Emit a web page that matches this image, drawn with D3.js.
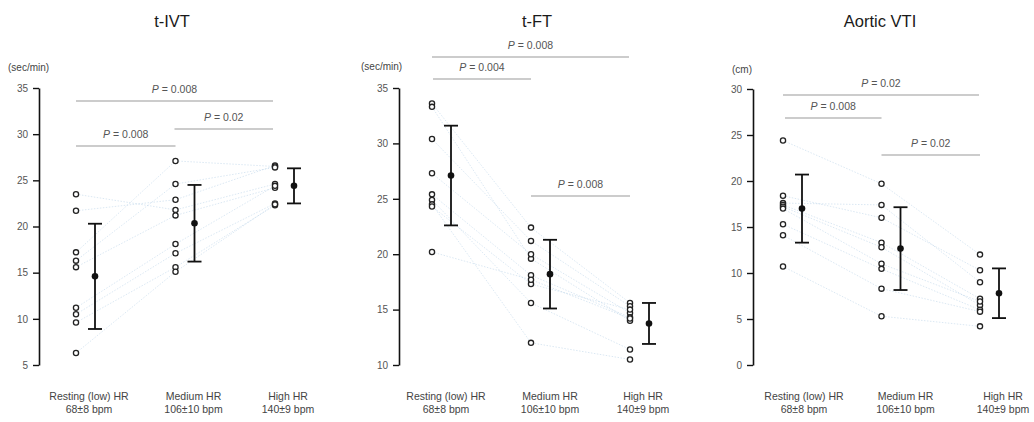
<!DOCTYPE html>
<html>
<head>
<meta charset="utf-8">
<script src="https://cdn.jsdelivr.net/npm/d3@7/dist/d3.min.js"></script>
<style>
  html, body { margin: 0; padding: 0; background: #fff; }
  svg { display: block; font-family: "Liberation Sans", Arial, sans-serif; }
</style>
</head>
<body>
<svg id="chart" width="1034" height="422"></svg>
<script>
// ---- data ----
const titles = ["t-IVT", "t-FT", "Aortic VTI"];
const units = ["(sec/min)", "(sec/min)", "(cm)"];
const groupNames = ["Resting (low) HR", "Medium HR", "High HR"];
const groupRates = ["68±8 bpm", "106±10 bpm", "140±9 bpm"];

const ivtTicks = [5, 10, 15, 20, 25, 30, 35];
const ftTicks = [10, 15, 20, 25, 30, 35];
const vtiTicks = [0, 5, 10, 15, 20, 25, 30];

// individual subjects, same order in each group
const ivtResting = [23.5, 21.7, 17.2, 16.3, 15.6, 11.2, 10.5, 9.6, 6.3];
const ivtMedium  = [21.8, 22.9, 27.1, 24.6, 21.2, 18.1, 17.1, 15.6, 15.1];
const ivtHigh    = [24.6, 26.6, 26.5, 26.4, 24.2, 24.4, 22.5, 22.3, 22.4];

const ftResting = [33.6, 33.3, 30.4, 27.3, 25.4, 24.9, 24.5, 24.3, 20.2];
const ftMedium  = [22.4, 19.6, 21.2, 20.0, 18.1, 15.6, 12.0, 17.3, 17.7];
const ftHigh    = [15.6, 14.0, 15.3, 14.7, 14.3, 11.4, 10.5, 15.0, 14.2];

const vtiResting = [24.4, 18.4, 17.6, 17.4, 17.2, 17.0, 15.3, 14.1, 10.7];
const vtiMedium  = [19.7, 16.0, 17.4, 13.3, 12.8, 11.0, 10.45, 8.3, 5.3];
const vtiHigh    = [12.0, 10.3, 9.0, 7.2, 6.5, 6.9, 6.0, 5.8, 4.2];

// group mean and SD
const ivtMean = [14.6, 20.35, 24.4];
const ivtSD   = [5.7, 4.15, 1.9];
const ftMean  = [27.1, 18.2, 13.75];
const ftSD    = [4.5, 3.1, 1.85];
const vtiMean = [17.0, 12.65, 7.8];
const vtiSD   = [3.7, 4.5, 2.7];

// pairwise comparisons: [from group, to group, p]
const ivtP = [[0, 2, "0.008"], [1, 2, "0.02"], [0, 1, "0.008"]];
const ftP  = [[0, 2, "0.008"], [0, 1, "0.004"], [1, 2, "0.008"]];
const vtiP = [[0, 2, "0.02"], [0, 1, "0.008"], [1, 2, "0.02"]];

const panels = [
  { title: titles[0], unit: units[0], ticks: ivtTicks, groups: [ivtResting, ivtMedium, ivtHigh], mean: ivtMean, sd: ivtSD, comps: ivtP },
  { title: titles[1], unit: units[1], ticks: ftTicks, groups: [ftResting, ftMedium, ftHigh], mean: ftMean, sd: ftSD, comps: ftP },
  { title: titles[2], unit: units[2], ticks: vtiTicks, groups: [vtiResting, vtiMedium, vtiHigh], mean: vtiMean, sd: vtiSD, comps: vtiP }
];

// ---- layout ----
const layout = [
  { axisX: 39,  yTop: 88, yBot: 365, x0: 76,  x1: 275, titleX: 172, unitX: 8,   unitY: 71, brackets: [101, 129, 146], bracketInset: [[0, -2], [-1, -2], [0, 0]], labelOffsets: [13, 18, 13] },
  { axisX: 399, yTop: 88, yBot: 365, x0: 432, x1: 630, titleX: 537, unitX: 361, unitY: 70, brackets: [57, 79, 196],  bracketInset: [[0, -1], [1, 0], [0, 0]], labelOffsets: [14, 19, 13] },
  { axisX: 753, yTop: 89, yBot: 365, x0: 783, x1: 980, titleX: 880, unitX: 732, unitY: 73, brackets: [95, 118, 155], bracketInset: [[0, -1], [2, 0], [0, 0]], labelOffsets: [21, 24, 23] }
];

const svg = d3.select("#chart");

panels.forEach((p, i) => {
  const L = layout[i];
  const g = svg.append("g");

  const y = d3.scaleLinear()
    .domain([d3.min(p.ticks), d3.max(p.ticks)])
    .range([L.yBot, L.yTop]);
  const x = d3.scalePoint()
    .domain(d3.range(groupNames.length))
    .range([L.x0, L.x1]);
  const errOffset = 19;

  // title
  g.append("text")
    .attr("x", L.titleX).attr("y", 27)
    .attr("text-anchor", "middle")
    .attr("font-size", 16.5)
    .attr("fill", "#1a1a1a")
    .text(p.title);

  // unit label
  g.append("text")
    .attr("x", L.unitX).attr("y", L.unitY)
    .attr("font-size", 10)
    .attr("fill", "#444")
    .text(p.unit);

  // y axis
  const axis = g.append("g")
    .attr("transform", `translate(${L.axisX},0)`)
    .call(d3.axisLeft(y).tickValues(p.ticks).tickSize(6).tickSizeOuter(0).tickPadding(5));
  axis.select(".domain").attr("stroke", "#111").attr("stroke-width", 1.6);
  axis.selectAll(".tick line").attr("stroke", "#111").attr("stroke-width", 1.4);
  axis.selectAll(".tick text")
    .attr("font-family", "Liberation Sans, Arial, sans-serif")
    .attr("font-size", 10)
    .attr("fill", "#555");

  // subject lines
  const n = p.groups[0].length;
  const line = d3.line().x(d => x(d[0])).y(d => y(d[1]));
  for (let s = 0; s < n; s++) {
    const pts = p.groups.map((vals, gi) => [gi, vals[s]]);
    g.append("path")
      .attr("d", line(pts))
      .attr("fill", "none")
      .attr("stroke", "#b4cfe6")
      .attr("stroke-width", 0.8)
      .attr("stroke-dasharray", "1.5,1.5")
      .attr("opacity", 0.6);
  }

  // open circles
  p.groups.forEach((vals, gi) => {
    g.selectAll(null)
      .data(vals)
      .enter().append("circle")
      .attr("cx", x(gi))
      .attr("cy", d => y(d))
      .attr("r", 2.6)
      .attr("fill", "#fff")
      .attr("stroke", "#222")
      .attr("stroke-width", 1.3);
  });

  // mean ± SD
  p.mean.forEach((m, gi) => {
    const cx = x(gi) + errOffset;
    const hi = y(m + p.sd[gi]);
    const lo = y(m - p.sd[gi]);
    g.append("line").attr("x1", cx).attr("x2", cx).attr("y1", hi).attr("y2", lo)
      .attr("stroke", "#111").attr("stroke-width", 1.8);
    [hi, lo].forEach(yy => {
      g.append("line").attr("x1", cx - 7).attr("x2", cx + 7).attr("y1", yy).attr("y2", yy)
        .attr("stroke", "#111").attr("stroke-width", 1.8);
    });
    g.append("circle").attr("cx", cx).attr("cy", y(m)).attr("r", 3.3).attr("fill", "#111");
  });

  // significance brackets
  p.comps.forEach((c, ci) => {
    const by = L.brackets[ci];
    const xa = x(c[0]) + L.bracketInset[ci][0];
    const xb = x(c[1]) + L.bracketInset[ci][1];
    g.append("line").attr("x1", xa).attr("x2", xb).attr("y1", by).attr("y2", by)
      .attr("stroke", "#999").attr("stroke-width", 1.1);
    const t = g.append("text")
      .attr("x", (xa + xb) / 2).attr("y", by - 8)
      .attr("text-anchor", "middle")
      .attr("font-size", 10.5)
      .attr("fill", "#555");
    t.append("tspan").attr("font-style", "italic").text("P");
    t.append("tspan").text(" = " + c[2]);
  });

  // category labels
  groupNames.forEach((name, gi) => {
    const cx = x(gi) + L.labelOffsets[gi];
    const t = g.append("text")
      .attr("x", cx)
      .attr("text-anchor", "middle")
      .attr("font-size", 10.5)
      .attr("fill", "#444");
    t.append("tspan").attr("x", cx).attr("y", 400).text(name);
    t.append("tspan").attr("x", cx).attr("y", 413).text(groupRates[gi]);
  });
});
</script>
</body>
</html>
